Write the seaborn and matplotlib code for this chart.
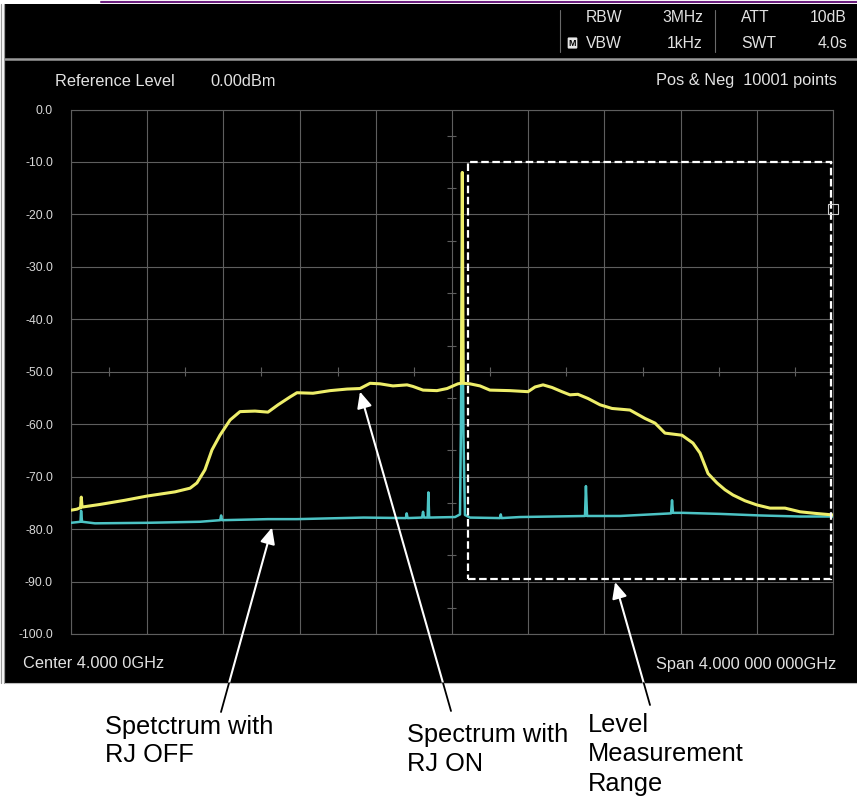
import matplotlib
matplotlib.use("Agg")
import matplotlib.pyplot as plt
from matplotlib.patches import Rectangle, FancyArrowPatch
from matplotlib.lines import Line2D
from matplotlib.transforms import IdentityTransform
import numpy as np
import pandas as pd
import seaborn as sns

# ---- spectrum data (frequency in GHz, level in dBm) ----
freq_rj_on = [2.000, 2.031, 2.050, 2.054, 2.058, 2.152, 2.283, 2.399, 2.546, 2.625,
              2.661, 2.703, 2.740, 2.782, 2.835, 2.887, 2.966, 3.034, 3.087, 3.150,
              3.186, 3.270, 3.360, 3.449, 3.517, 3.570, 3.622, 3.690, 3.764, 3.795,
              3.848, 3.921, 3.974, 4.031, 4.049, 4.053, 4.054, 4.056, 4.059, 4.094,
              4.147, 4.199, 4.304, 4.399, 4.436, 4.478, 4.525, 4.577, 4.619, 4.661,
              4.714, 4.777, 4.840, 4.934, 5.013, 5.066, 5.118, 5.207, 5.265, 5.302,
              5.344, 5.391, 5.433, 5.475, 5.538, 5.601, 5.669, 5.748, 5.827, 5.906,
              6.000]
level_rj_on = [-76.4, -76.2, -75.9, -73.9, -75.8, -75.3, -74.5, -73.7, -72.9, -72.2,
               -71.2, -68.7, -64.9, -62.1, -59.2, -57.6, -57.5, -57.7, -56.3, -54.8,
               -54.0, -54.1, -53.6, -53.3, -53.2, -52.2, -52.3, -52.7, -52.5, -52.8,
               -53.5, -53.6, -53.2, -52.3, -52.2, -30.0, -12.0, -30.0, -52.2, -52.3,
               -52.7, -53.5, -53.6, -53.8, -52.9, -52.5, -53.0, -53.8, -54.4, -54.3,
               -55.1, -56.3, -57.0, -57.3, -58.9, -59.8, -61.7, -62.1, -63.6, -65.5,
               -69.4, -71.2, -72.5, -73.5, -74.6, -75.4, -76.0, -76.0, -76.7, -77.0,
               -77.3]

freq_rj_off = [2.000, 2.050, 2.053, 2.058, 2.126, 2.399, 2.677, 2.783, 2.788, 2.793,
               3.034, 3.186, 3.536, 3.758, 3.762, 3.767, 3.843, 3.848, 3.853, 3.872,
               3.876, 3.880, 4.016, 4.042, 4.047, 4.051, 4.054, 4.056, 4.060, 4.068,
               4.094, 4.252, 4.256, 4.260, 4.357, 4.698, 4.703, 4.709, 4.882, 5.150,
               5.155, 5.160, 5.213, 5.407, 5.617, 5.827, 6.000]
level_rj_off = [-78.8, -78.6, -76.5, -78.6, -78.9, -78.8, -78.6, -78.3, -77.4, -78.3,
                -78.1, -78.1, -77.8, -77.9, -77.0, -77.9, -77.8, -76.7, -77.8, -77.8,
                -73.0, -77.8, -77.7, -77.2, -60.0, -35.0, -14.0, -40.0, -62.0, -77.3,
                -77.8, -77.9, -77.2, -77.9, -77.7, -77.5, -71.8, -77.5, -77.5, -77.0,
                -74.5, -76.9, -76.9, -77.1, -77.4, -77.6, -77.6]

# level measurement window
range_freq = [4.086, 5.988]
range_level = [-10.0, -89.5]

# display graticule
freq_grid = [2.0, 2.4, 2.8, 3.2, 3.6, 4.0, 4.4, 4.8, 5.2, 5.6, 6.0]
level_grid = [0, -10, -20, -30, -40, -50, -60, -70, -80, -90, -100]
level_labels = ["0.0", "-10.0", "-20.0", "-30.0", "-40.0", "-50.0",
                "-60.0", "-70.0", "-80.0", "-90.0", "-100.0"]

# ---- figure layout helpers (pixel positions on an 857x798 canvas) ----
W, H = 857, 798
SCREEN_BOTTOM = 683


def fx(x):
    return x / W


def fy(y):
    return 1 - y / H


sns.set_theme(style="dark")
plt.rcParams["font.family"] = ["Liberation Sans", "DejaVu Sans"]

fig = plt.figure(figsize=(W / 100, H / 100), dpi=100)
fig.patch.set_facecolor("white")

# instrument screen background
screen = Rectangle((fx(4.5), fy(SCREEN_BOTTOM)), 1 - fx(4.5), fy(4) - fy(SCREEN_BOTTOM),
                   transform=fig.transFigure, facecolor="black", edgecolor="none",
                   zorder=-5)
fig.patches.append(screen)


def fline(xs, ys, **kw):
    fig.add_artist(Line2D([fx(v) for v in xs], [fy(v) for v in ys],
                          transform=fig.transFigure, **kw))


# frame lines around the screen
for xx in (1.0, 3.5):
    fline([xx, xx], [4, SCREEN_BOTTOM], color="#9a9a9a", lw=0.9)
fline([101, W], [1.5, 1.5], color="#6b1f7e", lw=1.5)
fline([4.5, W], [59, 59], color="#9a9a9a", lw=1.8)
fline([4.5, W], [SCREEN_BOTTOM, SCREEN_BOTTOM], color="#bdbdbd", lw=0.8)
for xx in (560, 715):
    fline([xx, xx], [10, 52], color="#6a6a6a", lw=0.8)

txt = dict(color="#e2e2e2", va="center", fontsize=11.3)
fig.text(fx(622), fy(18), "RBW", ha="right", **txt)
fig.text(fx(703), fy(18), "3MHz", ha="right", **txt)
fig.text(fx(741), fy(18), "ATT", ha="left", **txt)
fig.text(fx(847), fy(18), "10dB", ha="right", **txt)
fig.text(fx(622), fy(43), "VBW", ha="right", **txt)
fig.text(fx(703), fy(43), "1kHz", ha="right", **txt)
fig.text(fx(741), fy(43), "SWT", ha="left", **txt)
fig.text(fx(847), fy(43), "4.0s", ha="right", **txt)
fig.text(fx(572.5), fy(43), "M", ha="center", va="center", fontsize=6.5, color="black",
         fontweight="bold",
         bbox=dict(boxstyle="round,pad=0.12", facecolor="#e6e6e6", edgecolor="none"))

txt2 = dict(color="#e2e2e2", va="center", fontsize=11.8)
fig.text(fx(55), fy(81), "Reference Level", ha="left", **txt2)
fig.text(fx(210), fy(81), "0.00dBm", ha="left", **txt2)
fig.text(fx(837), fy(81), "Pos & Neg  10001 points", ha="right", **txt2)
fig.text(fx(23), fy(664), "Center 4.000 0GHz", ha="left", **txt2)
fig.text(fx(836), fy(664), "Span 4.000 000 000GHz", ha="right", **txt2)

# ---- spectrum display ----
ax = fig.add_axes([fx(71), fy(634), (833 - 71) / W, (634 - 109.5) / H])
ax.set_zorder(1)
ax.set_facecolor("black")
ax.set_xlim(freq_grid[0], freq_grid[-1])
ax.set_ylim(level_grid[-1], level_grid[0])
ax.set_xticks(freq_grid)
ax.set_yticks(level_grid)
ax.set_yticklabels(level_labels)
ax.tick_params(axis="x", length=0, labelbottom=False)
ax.tick_params(axis="y", length=0, pad=13, labelsize=8.8, labelcolor="#d8d8d8")
grid_c = "#5e5e5e"
ax.grid(True, color=grid_c, lw=0.8)
ax.set_axisbelow(True)
for s in ax.spines.values():
    s.set_color(grid_c)
    s.set_linewidth(0.8)

# fine graticule ticks along the centre line and the -50 dB line
fx_per_px = (freq_grid[-1] - freq_grid[0]) / 762
dy_per_px = (level_grid[0] - level_grid[-1]) / 524.5
half_levels = [(a + b) / 2 for a, b in zip(level_grid[:-1], level_grid[1:])]
half_freqs = [(a + b) / 2 for a, b in zip(freq_grid[:-1], freq_grid[1:])]
centre_f = freq_grid[5]
ax.hlines(half_levels, centre_f - 4.5 * fx_per_px, centre_f + 4.5 * fx_per_px,
          color=grid_c, lw=0.8, zorder=1)
ax.vlines(half_freqs, level_grid[5] - 4.5 * dy_per_px, level_grid[5] + 4.5 * dy_per_px,
          color=grid_c, lw=0.8, zorder=1)

cyan = "#4cc3c4"
yellow = "#eeee6a"
df_off = pd.DataFrame({"freq": freq_rj_off, "level": level_rj_off})
df_on = pd.DataFrame({"freq": freq_rj_on, "level": level_rj_on})
sns.lineplot(data=df_off, x="freq", y="level", ax=ax, color=cyan, lw=1.8,
             estimator=None, sort=False, zorder=3)
sns.lineplot(data=df_on, x="freq", y="level", ax=ax, color=yellow, lw=2.2,
             estimator=None, sort=False, zorder=4)
for ln in ax.lines:
    ln.set_solid_joinstyle("round")
ax.set_xlabel("")
ax.set_ylabel("")

ax.add_patch(Rectangle((range_freq[0], range_level[1]), range_freq[1] - range_freq[0],
                       range_level[0] - range_level[1], fill=False, edgecolor="white",
                       lw=1.6, linestyle=(0, (3.4, 1.6)), zorder=5))
ax.plot([freq_grid[-1]], [-19.0], marker="s", ms=7, mfc="none", mec="#d0d0d0",
        mew=0.8, clip_on=False, zorder=6)

# ---- annotations: white arrow on the screen, black leader on the paper ----
arrows = [((221, 712), (3.055, -79.7)),
          ((451, 711), (3.517, -53.8)),
          ((650, 705), (4.856, -90.1))]
for (tx, ty), head in arrows:
    tail = fig.transFigure.transform((fx(tx), fy(ty)))
    tip = ax.transData.transform(head)
    edge_y = fig.transFigure.transform((0, fy(SCREEN_BOTTOM)))[1]
    t = (edge_y - tail[1]) / (tip[1] - tail[1])
    edge = tail + t * (tip - tail)
    fig.add_artist(FancyArrowPatch(edge, tip, transform=IdentityTransform(),
                                   arrowstyle="-|>,head_length=0.65,head_width=0.3",
                                   mutation_scale=15, color="white", lw=1.5,
                                   shrinkA=0, shrinkB=0, zorder=10))
    fig.add_artist(Line2D([tail[0], edge[0]], [tail[1], edge[1]],
                          transform=IdentityTransform(), color="black", lw=1.3,
                          zorder=10))

note = dict(color="black", fontsize=18.3, ha="left", va="baseline")
fig.text(fx(105), fy(734), "Spetctrum with", **note)
fig.text(fx(105), fy(762), "RJ OFF", **note)
fig.text(fx(407), fy(742), "Spectrum with", **note)
fig.text(fx(407), fy(771), "RJ ON", **note)
fig.text(fx(588), fy(732), "Level", **note)
fig.text(fx(588), fy(761), "Measurement", **note)
fig.text(fx(588), fy(791), "Range", **note)

fig.savefig("out.png", dpi=100, facecolor="white")
